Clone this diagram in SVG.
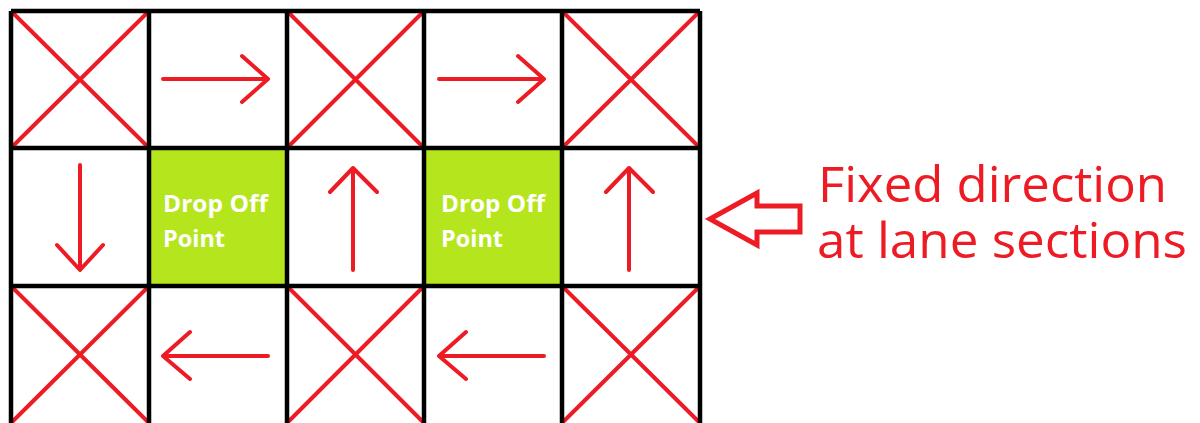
<svg xmlns="http://www.w3.org/2000/svg" width="1200" height="423" viewBox="0 0 1200 423">
<style>
.grid{stroke:#000;stroke-width:4.5;fill:none}
.r{stroke:#ED1C24;stroke-width:4;fill:none;stroke-linecap:round;stroke-linejoin:round}
.dp{fill:#B5E61D}
.dt{fill:#fff;font-family:"Open Sans","Noto Sans",sans-serif;font-weight:bold;font-size:23px}
.lbl{fill:#ED1C24;font-family:"Open Sans","Noto Sans",sans-serif;font-size:50px}
</style>
<rect width="1200" height="423" fill="#fff"/>
<g id="drop1"><rect class="dp" x="149" y="148" width="138" height="138"/><text class="dt" x="163" y="212" textLength="105" lengthAdjust="spacingAndGlyphs">Drop Off</text><text class="dt" x="163" y="247" textLength="62" lengthAdjust="spacingAndGlyphs">Point</text></g>
<g id="drop2"><rect class="dp" x="424" y="148" width="138" height="138"/><text class="dt" x="441" y="212" textLength="104" lengthAdjust="spacingAndGlyphs">Drop Off</text><text class="dt" x="441" y="247" textLength="62" lengthAdjust="spacingAndGlyphs">Point</text></g>
<g id="blocked">
<path class="r" d="M13,13 L147,146 M147,13 L13,146"/>
<path class="r" d="M289,13 L422,146 M422,13 L289,146"/>
<path class="r" d="M564,13 L698,146 M698,13 L564,146"/>
<path class="r" d="M13,288 L147,421 M147,288 L13,421"/>
<path class="r" d="M289,288 L422,421 M422,288 L289,421"/>
<path class="r" d="M564,288 L698,421 M698,288 L564,421"/>
</g>
<g id="connectors">
<path class="r" d="M163,79 H268 M242,56 L268,79 L242,102"/>
<path class="r" d="M439,79 H544 M518,56 L544,79 L518,102"/>
<path class="r" d="M80,165 V270 M57,245 L80,270 L103,245"/>
<path class="r" d="M353,270 V168 M330,192 L353,168 L377,192"/>
<path class="r" d="M629,270 V168 M606,192 L629,168 L653,192"/>
<path class="r" d="M268,356 H163 M190,332 L163,356 L190,379"/>
<path class="r" d="M544,356 H439 M466,332 L439,356 L466,379"/>
<path d="M710,219 L757,193 L757,206 L800,206 L800,232 L757,232 L757,245 Z" fill="none" stroke="#ED1C24" stroke-width="5" stroke-linejoin="miter"/>
</g>
<g id="grid">
<path class="grid" d="M11,11 H700 M11,148 H700 M11,286 H700 M11,11 V423 M149,11 V423 M287,11 V423 M424,11 V423 M562,11 V423 M700,11 V423"/>
</g>
<g id="label">
<text class="lbl" x="818" y="202" textLength="349" lengthAdjust="spacingAndGlyphs">Fixed direction</text>
<text class="lbl" x="817" y="258" textLength="370" lengthAdjust="spacingAndGlyphs">at lane sections</text>
</g>
</svg>
